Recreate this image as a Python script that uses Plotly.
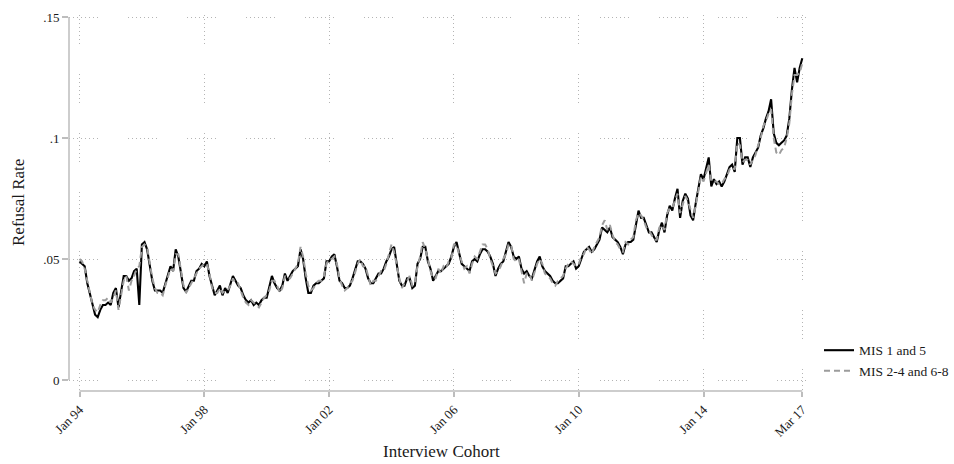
import plotly.graph_objects as go

# Monthly interview cohorts, Jan 1994 .. Mar 2017 (index 0 = Jan 94)
mis_1_5 = [
    .049, .048, .047, .040, .036, .031, .027, .026, .029, .031, .031, .032,  # 1994
    .031, .036, .038, .030, .036, .043, .043, .041, .042, .045, .046, .031,  # 1995
    .056, .057, .054, .047, .041, .037, .037, .037, .036, .040, .044, .047,  # 1996
    .045, .054, .051, .045, .038, .0365, .039, .041, .041, .045, .046, .048,  # 1997
    .047, .049, .043, .039, .035, .037, .039, .035, .038, .036, .040, .043,  # 1998
    .041, .039, .038, .035, .033, .032, .033, .031, .032, .031, .033, .034,  # 1999
    .034, .038, .043, .040, .038, .037, .039, .044, .041, .043, .045, .046,  # 2000
    .047, .054, .050, .042, .036, .036, .039, .040, .040, .041, .042, .049,  # 2001
    .049, .051, .052, .047, .041, .040, .038, .038, .039, .042, .046, .049,  # 2002
    .049, .048, .046, .042, .040, .040, .042, .044, .044, .046, .049, .051,  # 2003
    .054, .055, .048, .041, .039, .039, .042, .042, .038, .039, .048, .050,  # 2004
    .055, .055, .049, .046, .041, .043, .045, .045, .046, .047, .048, .051,  # 2005
    .055, .057, .053, .048, .047, .046, .045, .049, .050, .049, .052, .054,  # 2006
    .054, .053, .051, .048, .043, .046, .048, .049, .053, .057, .055, .051,  # 2007
    .050, .051, .046, .044, .045, .043, .042, .046, .049, .051, .047, .045,  # 2008
    .044, .043, .041, .040, .040, .041, .042, .047, .047, .048, .049, .046,  # 2009
    .047, .050, .053, .054, .055, .053, .054, .056, .058, .063, .062, .061,  # 2010
    .063, .059, .058, .057, .055, .052, .056, .057, .057, .058, .064, .070,  # 2011
    .067, .067, .064, .061, .061, .059, .057, .062, .065, .061, .068, .072,  # 2012
    .070, .075, .079, .067, .074, .077, .075, .068, .066, .073, .080, .085,  # 2013
    .083, .088, .092, .080, .083, .081, .082, .080, .082, .085, .088, .089,  # 2014
    .086, .100, .100, .089, .092, .092, .088, .092, .094, .096, .101, .104,  # 2015
    .108, .111, .116, .102, .098, .097, .098, .099, .101, .108, .120, .129,  # 2016
    .123, .129, .133,                                                        # 2017
]

mis_2_4_6_8 = [
    .050, .049, .046, .041, .035, .031, .029, .028, .031, .033, .033, .034,  # 1994
    .032, .034, .037, .029, .035, .041, .043, .037, .041, .043, .046, .047,  # 1995
    .055, .056, .055, .048, .042, .038, .036, .036, .035, .039, .043, .046,  # 1996
    .045, .052, .052, .046, .039, .036, .038, .040, .042, .044, .046, .047,  # 1997
    .048, .048, .044, .038, .036, .036, .038, .036, .037, .037, .039, .042,  # 1998
    .040, .040, .037, .034, .032, .031, .033, .032, .031, .030, .032, .034,  # 1999
    .035, .037, .041, .041, .039, .036, .038, .043, .042, .042, .044, .046,  # 2000
    .048, .055, .051, .044, .039, .037, .038, .040, .041, .041, .043, .048,  # 2001
    .050, .050, .051, .048, .042, .039, .037, .038, .040, .041, .045, .048,  # 2002
    .050, .047, .047, .043, .039, .041, .041, .043, .045, .045, .048, .052,  # 2003
    .056, .053, .047, .042, .038, .040, .041, .043, .039, .040, .047, .051,  # 2004
    .057, .054, .050, .045, .042, .042, .046, .044, .047, .046, .049, .050,  # 2005
    .056, .056, .052, .049, .046, .047, .044, .048, .051, .050, .053, .056,  # 2006
    .056, .054, .050, .047, .044, .045, .047, .050, .052, .056, .056, .050,  # 2007
    .049, .050, .045, .040, .044, .044, .041, .045, .048, .050, .048, .044,  # 2008
    .043, .042, .040, .039, .041, .042, .043, .046, .048, .049, .048, .047,  # 2009
    .048, .051, .052, .055, .054, .052, .055, .057, .059, .064, .066, .062,  # 2010
    .064, .060, .057, .056, .054, .053, .057, .056, .058, .059, .066, .069,  # 2011
    .068, .066, .063, .062, .060, .058, .058, .063, .064, .062, .069, .071,  # 2012
    .071, .074, .077, .069, .073, .076, .074, .070, .067, .072, .079, .084,  # 2013
    .082, .086, .089, .082, .082, .082, .081, .081, .083, .084, .087, .088,  # 2014
    .087, .098, .097, .090, .091, .091, .089, .091, .093, .097, .100, .105,  # 2015
    .107, .110, .112, .100, .094, .093, .095, .096, .100, .106, .118, .126,  # 2016
    .126, .127, .131,                                                        # 2017
]

cohort = list(range(len(mis_1_5)))  # month index from Jan 94
x_tick_vals = [0, 48, 96, 144, 192, 240, 278]
x_tick_text = ["Jan 94", "Jan 98", "Jan 02", "Jan 06", "Jan 10", "Jan 14", "Mar 17"]
y_tick_vals = [0, 0.05, 0.10, 0.15]
y_tick_text = ["0", ".05", ".1", ".15"]

SERIF = "Liberation Serif"
AXIS_GREY = "#bdbdbd"
GRID_GREY = "#b4b4b4"
# Stata-like broken dotted grid: runs of fine dots separated by gaps
GRID_DASH = ",".join(["1px,3px"] * 7 + ["1px,30px"])

W, H = 954, 464
ML, MR, MT, MB = 69, 0, 15, 73
PLOT_W = 737  # plot area width in px (69 .. 806)
paper_w = W - ML - MR

fig = go.Figure()
fig.add_trace(go.Scatter(
    x=cohort, y=mis_1_5, mode="lines", name="MIS 1 and 5",
    line=dict(color="#000000", width=2.1),
))
fig.add_trace(go.Scatter(
    x=cohort, y=mis_2_4_6_8, mode="lines", name="MIS 2-4 and 6-8",
    line=dict(color="#9c9c9c", width=2.0, dash="6px,4px"),
))

fig.update_layout(
    width=W, height=H,
    margin=dict(l=ML, r=MR, t=MT, b=MB),
    paper_bgcolor="white", plot_bgcolor="white",
    font=dict(family=SERIF, color="#1a1a1a", size=13),
    showlegend=True,
    legend=dict(
        x=1.0, xanchor="right", y=0.08, yanchor="middle",
        font=dict(family=SERIF, size=13.5, color="#1a1a1a"),
        bgcolor="rgba(0,0,0,0)", borderwidth=0, tracegroupgap=0,
    ),
    xaxis=dict(
        domain=[0, PLOT_W / paper_w],
        range=[-4.04, 279.42], automargin=False,
        tickmode="array", tickvals=x_tick_vals, ticktext=x_tick_text,
        tickangle=-45, ticks="outside", ticklen=5, tickcolor=AXIS_GREY, tickwidth=1.5,
        tickfont=dict(family=SERIF, size=13, color="#1a1a1a"),
        showline=False, zeroline=False,
        showgrid=True, gridcolor=GRID_GREY, griddash=GRID_DASH, gridwidth=1,
    ),
    yaxis=dict(
        range=[-0.004545, 0.15083], automargin=False,
        tickmode="array", tickvals=y_tick_vals, ticktext=y_tick_text,
        ticks="outside", ticklen=6, tickcolor=AXIS_GREY, tickwidth=1.5,
        tickfont=dict(family=SERIF, size=13, color="#1a1a1a"),
        showline=False, zeroline=False,
        showgrid=True, gridcolor=GRID_GREY, griddash=GRID_DASH, gridwidth=1,
    ),
    shapes=[
        dict(type="line", xref="paper", yref="y", x0=0, x1=0,
             y0=y_tick_vals[0], y1=y_tick_vals[-1],
             line=dict(color=AXIS_GREY, width=1.5)),
        dict(type="line", xref="x", yref="paper", x0=x_tick_vals[0], x1=x_tick_vals[-1],
             y0=0, y1=0, line=dict(color=AXIS_GREY, width=1.5)),
    ],
    annotations=[
        dict(text="Refusal Rate", xref="paper", yref="paper", x=(18 - ML) / paper_w, y=0.5,
             textangle=-90, showarrow=False, xanchor="center", yanchor="middle",
             font=dict(family=SERIF, size=17, color="#1a1a1a")),
        dict(text="Interview Cohort", xref="paper", yref="paper", x=(441 - ML) / paper_w,
             y=-0.162, showarrow=False, xanchor="center", yanchor="middle",
             font=dict(family=SERIF, size=17, color="#1a1a1a")),
    ],
)

# remove the browser's default 8px page margin so the figure sits at the window origin
fig.write_html(
    "out.html",
    config={"displayModeBar": False},
    post_script="document.body.style.margin='0px';document.body.style.overflow='hidden';",
)
